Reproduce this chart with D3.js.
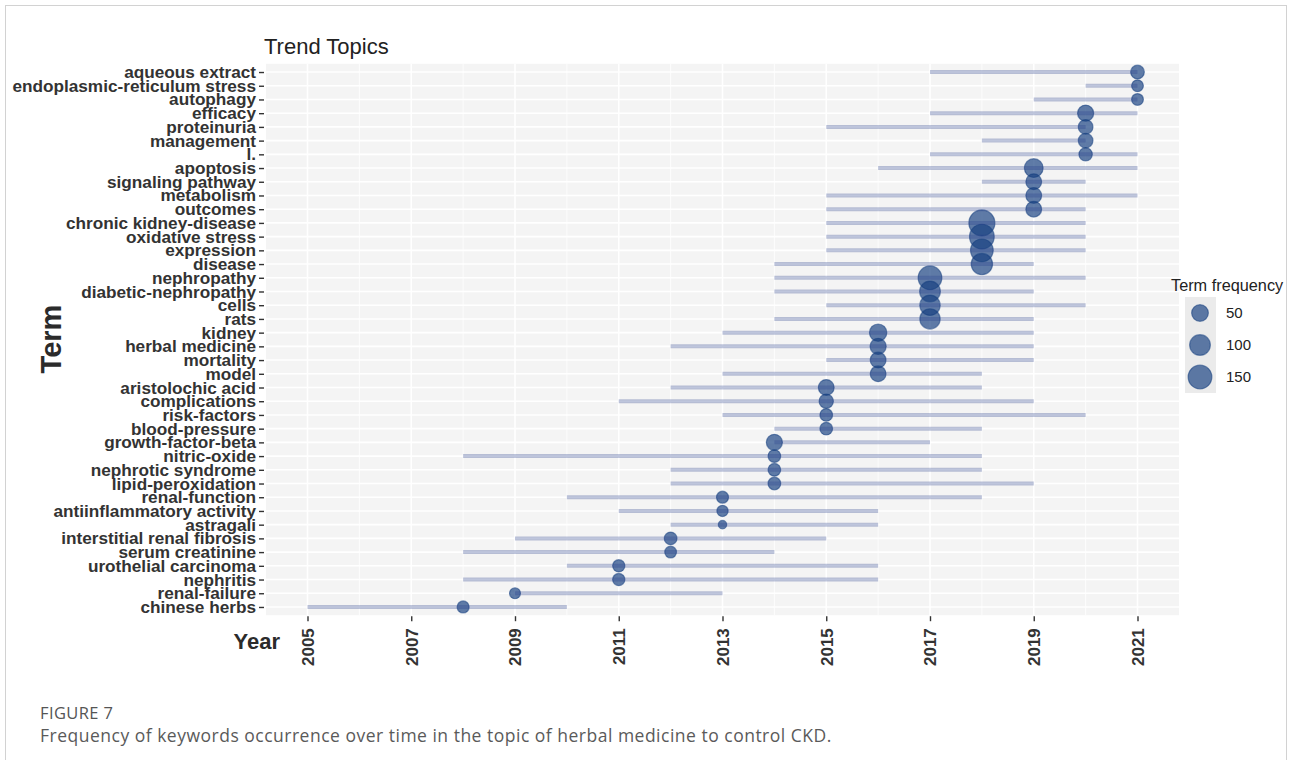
<!DOCTYPE html>
<html>
<head>
<meta charset="utf-8">
<script src="https://cdn.jsdelivr.net/npm/d3@7"></script>
<style>
  html, body { margin: 0; padding: 0; background: #fff; }
  svg { display: block; font-family: "Liberation Sans", Arial, sans-serif; }
</style>
</head>
<body>
<svg id="chart" width="1293" height="760"></svg>
<script>

/****************************/
/*          Data            */
/****************************/
const terms = [
  "aqueous extract", "endoplasmic-reticulum stress", "autophagy", "efficacy",
  "proteinuria", "management", "l.", "apoptosis", "signaling pathway",
  "metabolism", "outcomes", "chronic kidney-disease", "oxidative stress",
  "expression", "disease", "nephropathy", "diabetic-nephropathy", "cells",
  "rats", "kidney", "herbal medicine", "mortality", "model",
  "aristolochic acid", "complications", "risk-factors", "blood-pressure",
  "growth-factor-beta", "nitric-oxide", "nephrotic syndrome",
  "lipid-peroxidation", "renal-function", "antiinflammatory activity",
  "astragali", "interstitial renal fibrosis", "serum creatinine",
  "urothelial carcinoma", "nephritis", "renal-failure", "chinese herbs"
];

const yearQ1 = [
  2017, 2020, 2019, 2017, 2015, 2018, 2017, 2016, 2018, 2015,
  2015, 2015, 2015, 2015, 2014, 2014, 2014, 2015, 2014, 2013,
  2012, 2015, 2013, 2012, 2011, 2013, 2014, 2014, 2008, 2012,
  2012, 2010, 2011, 2012, 2009, 2008, 2010, 2008, 2009, 2005
];

const yearMedian = [
  2021, 2021, 2021, 2020, 2020, 2020, 2020, 2019, 2019, 2019,
  2019, 2018, 2018, 2018, 2018, 2017, 2017, 2017, 2017, 2016,
  2016, 2016, 2016, 2015, 2015, 2015, 2015, 2014, 2014, 2014,
  2014, 2013, 2013, 2013, 2012, 2012, 2011, 2011, 2009, 2008
];

const yearQ3 = [
  2021, 2021, 2021, 2021, 2020, 2020, 2021, 2021, 2020, 2021,
  2020, 2020, 2020, 2020, 2019, 2020, 2019, 2020, 2019, 2019,
  2019, 2019, 2018, 2018, 2019, 2020, 2018, 2017, 2018, 2018,
  2019, 2018, 2016, 2016, 2015, 2014, 2016, 2016, 2013, 2010
];

const termFreq = [
  25, 15, 15, 44, 32, 32, 23, 73, 41, 41,
  41, 195, 169, 132, 109, 150, 100, 94, 94, 56,
  44, 41, 41, 41, 29, 19, 19, 44, 19, 19,
  19, 16, 13, 8, 19, 15, 17, 17, 12, 16
];

const yearTicks = [2005, 2007, 2009, 2011, 2013, 2015, 2017, 2019, 2021];
const legendValues = [50, 100, 150];

const rows = terms.map((t, i) => ({
  term: t, q1: yearQ1[i], med: yearMedian[i], q3: yearQ3[i], freq: termFreq[i]
}));

/****************************/
/*         Layout           */
/****************************/
const panel = { left: 266, right: 1179, top: 63.8, bottom: 615.2 };
const dotColor = "#163f80";
const lineColor = "#27408b";

const svg = d3.select("#chart");

const xScale = d3.scaleLinear()
  .domain([2004.2, 2021.8])
  .range([panel.left, panel.right]);

const yScale = d3.scalePoint()
  .domain(terms)
  .range([panel.top, panel.bottom])
  .padding(0.6);

// ggplot-like size scale: radius grows with sqrt of rescaled frequency
const freqRescale = d3.scaleLinear()
  .domain(d3.extent(termFreq))
  .range([0, 1]);

const radiusScale = d3.scaleSqrt()
  .domain([0, 1])
  .range([4.8, 13.6]);

const radius = v => radiusScale(freqRescale(v));

/****************************/
/*     Frame and title      */
/****************************/
svg.append("rect")
  .attr("x", 5.5).attr("y", 5.5)
  .attr("width", 1281).attr("height", 800)
  .attr("fill", "none")
  .attr("stroke", "#d2d2d2");

svg.append("text")
  .attr("x", 264).attr("y", 54)
  .attr("fill", "#222")
  .style("font-size", "22px")
  .text("Trend Topics");

/****************************/
/*      Panel and grid      */
/****************************/
svg.append("rect")
  .attr("x", panel.left).attr("y", panel.top)
  .attr("width", panel.right - panel.left)
  .attr("height", panel.bottom - panel.top)
  .attr("fill", "#f4f4f4");

const grid = svg.append("g");

grid.selectAll(".minor")
  .data(d3.pairs(yearTicks).map(([a, b]) => (a + b) / 2))
  .join("line")
    .attr("x1", d => xScale(d)).attr("x2", d => xScale(d))
    .attr("y1", panel.top).attr("y2", panel.bottom)
    .attr("stroke", "#fff").attr("stroke-width", 0.8);

grid.selectAll(".major")
  .data(yearTicks)
  .join("line")
    .attr("x1", d => xScale(d)).attr("x2", d => xScale(d))
    .attr("y1", panel.top).attr("y2", panel.bottom)
    .attr("stroke", "#fff").attr("stroke-width", 1.6);

grid.selectAll(".hline")
  .data(terms)
  .join("line")
    .attr("x1", panel.left).attr("x2", panel.right)
    .attr("y1", d => yScale(d)).attr("y2", d => yScale(d))
    .attr("stroke", "#fff").attr("stroke-width", 1.6);

/****************************/
/*     Points and ranges    */
/****************************/
svg.append("g")
  .selectAll("circle")
  .data(rows)
  .join("circle")
    .attr("cx", d => xScale(d.med))
    .attr("cy", d => yScale(d.term))
    .attr("r", d => radius(d.freq) - 0.6)
    .attr("fill", dotColor)
    .attr("fill-opacity", 0.68)
    .attr("stroke", dotColor)
    .attr("stroke-opacity", 0.55)
    .attr("stroke-width", 1.2);

svg.append("g")
  .selectAll("line")
  .data(rows)
  .join("line")
    .attr("x1", d => xScale(d.q1))
    .attr("x2", d => xScale(d.q3))
    .attr("y1", d => yScale(d.term))
    .attr("y2", d => yScale(d.term))
    .attr("stroke", lineColor)
    .attr("stroke-opacity", 0.3)
    .attr("stroke-width", 4);

/****************************/
/*          Axes            */
/****************************/
const yAxis = svg.append("g")
  .attr("transform", `translate(${panel.left - 2}, 0)`)
  .call(d3.axisLeft(yScale).tickSize(5).tickPadding(3));

yAxis.select(".domain").remove();
yAxis.selectAll("line").attr("stroke", "#333").attr("stroke-width", 1.4);
yAxis.selectAll("text")
  .attr("fill", "#333")
  .style("font-family", "'Liberation Sans', Arial, sans-serif")
  .style("font-size", "17.2px")
  .style("font-weight", 700);

const xAxis = svg.append("g")
  .attr("transform", `translate(0, ${panel.bottom + 1})`)
  .call(d3.axisBottom(xScale).tickValues(yearTicks).tickFormat(d3.format("d")).tickSize(5));

xAxis.select(".domain").remove();
xAxis.selectAll("line").attr("stroke", "#333").attr("stroke-width", 1.4);
xAxis.selectAll("text")
  .attr("transform", "rotate(-90)")
  .attr("x", -12)
  .attr("y", 0)
  .attr("dy", "0.35em")
  .attr("text-anchor", "end")
  .attr("fill", "#333")
  .style("font-family", "'Liberation Sans', Arial, sans-serif")
  .style("font-size", "17px")
  .style("font-weight", 700);

svg.append("text")
  .attr("transform", "translate(61, 339) rotate(-90)")
  .attr("text-anchor", "middle")
  .attr("fill", "#2b2b2b")
  .style("font-size", "29px")
  .style("font-weight", 700)
  .text("Term");

svg.append("text")
  .attr("x", 280).attr("y", 649)
  .attr("text-anchor", "end")
  .attr("fill", "#2b2b2b")
  .style("font-size", "22px")
  .style("font-weight", 700)
  .text("Year");

/****************************/
/*          Legend          */
/****************************/
const legend = svg.append("g").attr("transform", "translate(1171, 0)");

legend.append("text")
  .attr("x", 0).attr("y", 291)
  .attr("fill", "#222")
  .style("font-size", "16.3px")
  .text("Term frequency");

legend.append("rect")
  .attr("x", 14).attr("y", 297)
  .attr("width", 31).attr("height", 96)
  .attr("fill", "#ebebeb");

const keys = legend.selectAll(".key")
  .data(legendValues)
  .join("g")
    .attr("transform", (d, i) => `translate(29, ${313 + i * 32})`);

keys.append("circle")
  .attr("r", d => radius(d) - 0.6)
  .attr("fill", dotColor)
  .attr("fill-opacity", 0.68)
  .attr("stroke", dotColor)
  .attr("stroke-opacity", 0.55)
  .attr("stroke-width", 1.2);

keys.append("text")
  .attr("x", 26)
  .attr("dy", "0.35em")
  .attr("fill", "#222")
  .style("font-size", "15px")
  .text(d => d);

/****************************/
/*         Caption          */
/****************************/
svg.append("text")
  .attr("x", 40).attr("y", 719)
  .attr("fill", "#555")
  .style("font-family", "'Open Sans', sans-serif")
  .style("font-size", "16.5px")
  .style("letter-spacing", "0.4px")
  .text("FIGURE 7");

svg.append("text")
  .attr("x", 40).attr("y", 742)
  .attr("fill", "#5a5a5a")
  .style("font-family", "'Open Sans', sans-serif")
  .style("font-size", "17.5px")
  .style("letter-spacing", "0.5px")
  .text("Frequency of keywords occurrence over time in the topic of herbal medicine to control CKD.");

</script>
</body>
</html>
